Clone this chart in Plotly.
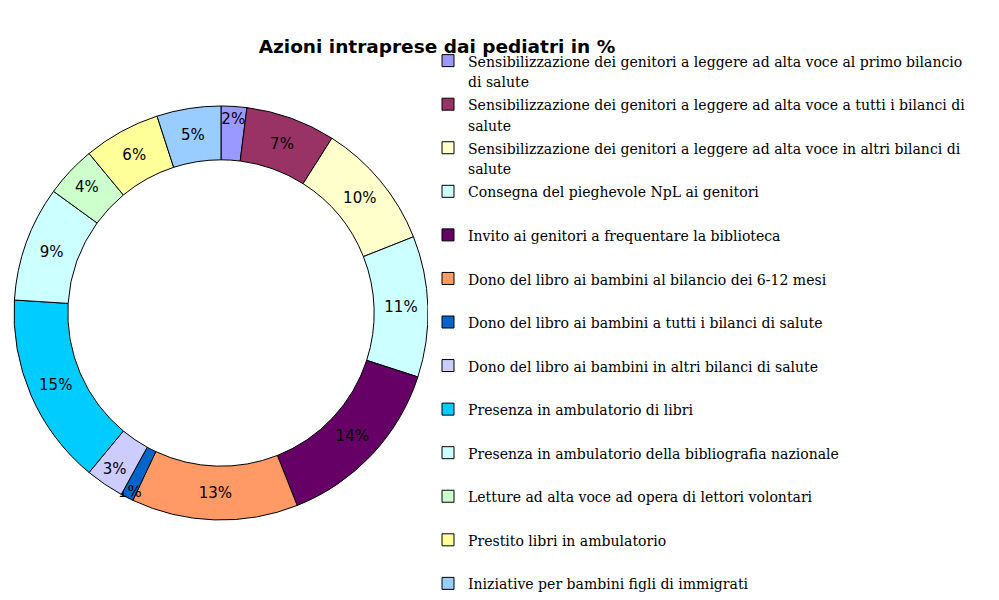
import plotly.graph_objects as go

labels = [
    "Sensibilizzazione dei genitori a leggere ad alta voce al primo bilancio<br>di salute",
    "Sensibilizzazione dei genitori a leggere ad alta voce a tutti i bilanci di<br>salute",
    "Sensibilizzazione dei genitori a leggere ad alta voce in altri bilanci di<br>salute",
    "Consegna del pieghevole NpL ai genitori<br>\u00a0",
    "Invito ai genitori a frequentare la biblioteca<br>\u00a0",
    "Dono del libro ai bambini al bilancio dei 6-12 mesi<br>\u00a0",
    "Dono del libro ai bambini a tutti i bilanci di salute<br>\u00a0",
    "Dono del libro ai bambini in altri bilanci di salute<br>\u00a0",
    "Presenza in ambulatorio di libri<br>\u00a0",
    "Presenza in ambulatorio della bibliografia nazionale<br>\u00a0",
    "Letture ad alta voce ad opera di lettori volontari<br>\u00a0",
    "Prestito libri in ambulatorio<br>\u00a0",
    "Iniziative per bambini figli di immigrati",
]
values = [2, 7, 10, 11, 14, 13, 1, 3, 15, 9, 4, 6, 5]
colors = ["#9999FF", "#993366", "#FFFFCC", "#CCFFFF", "#660066", "#FF9966",
          "#0066CC", "#CCCCFF", "#00CCFF", "#CCFFFF", "#CCFFCC", "#FFFF99", "#99CCFF"]

W, H = 999, 600
fig = go.Figure(go.Pie(
    labels=labels,
    values=values,
    hole=0.74,
    sort=False,
    direction="clockwise",
    rotation=0,
    marker=dict(colors=colors, line=dict(color="black", width=1)),
    texttemplate="%{value}%",
    textposition="inside",
    insidetextorientation="horizontal",
    textfont=dict(family="DejaVu Sans", size=15, color="black"),
    domain=dict(x=[14 / W, 428 / W], y=[(H - 520) / H, (H - 106) / H]),
))

fig.update_layout(
    width=W, height=H,
    margin=dict(l=0, r=0, t=0, b=0, autoexpand=False),
    paper_bgcolor="white",
    plot_bgcolor="white",
    uniformtext=dict(minsize=15, mode="show"),
    title=dict(
        text="<b>Azioni intraprese dai pediatri in %</b>",
        font=dict(family="DejaVu Sans", size=18.5, color="black"),
        x=437 / W, xanchor="center",
        y=1 - 47 / H, yanchor="middle",
        xref="paper", yref="paper",
    ),
    legend=dict(
        x=428 / W, xanchor="left",
        y=1 - 44 / H, yanchor="top",
        font=dict(family="DejaVu Serif Condensed, DejaVu Serif", size=15.6, color="black"),
        valign="top",
        itemwidth=30,
        tracegroupgap=0,
    ),
    showlegend=True,
)

fig.write_html("out.html", post_script="document.body.style.margin='0';",
               config={"displayModeBar": False})
